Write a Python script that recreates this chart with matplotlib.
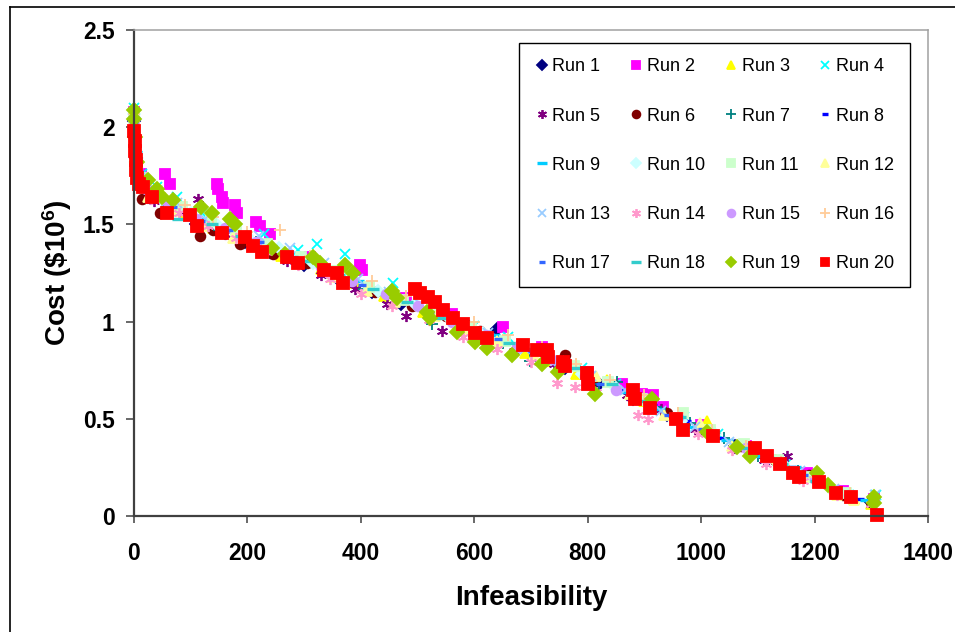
import matplotlib
matplotlib.use('Agg')
import matplotlib.pyplot as plt
from matplotlib.lines import Line2D

# ---- data: (infeasibility, cost in $10^6) per run ----
run1_x = [0, 3, 8, 25, 60, 110, 150, 195, 240, 300, 360, 420, 470, 520, 590, 640, 700, 760, 820, 880, 940, 1000, 1060, 1120, 1180, 1240, 1300]
run1_y = [2.03, 1.84, 1.72, 1.64, 1.59, 1.50, 1.46, 1.41, 1.36, 1.29, 1.22, 1.15, 1.09, 1.03, 0.97, 0.96, 0.83, 0.76, 0.68, 0.60, 0.52, 0.45, 0.36, 0.30, 0.21, 0.12, 0.07]

run2_x = [0, 4, 12, 55, 63, 146, 148, 155, 157, 178, 181, 216, 222, 240, 310, 398, 402, 480, 560, 651, 720, 800, 860, 896, 915, 933, 1000, 1080, 1187, 1250, 1305]
run2_y = [2.08, 1.86, 1.76, 1.76, 1.71, 1.71, 1.68, 1.64, 1.61, 1.60, 1.56, 1.51, 1.49, 1.45, 1.33, 1.29, 1.265, 1.12, 1.04, 0.97, 0.87, 0.74, 0.68, 0.63, 0.62, 0.56, 0.47, 0.36, 0.22, 0.13, 0.09]

run3_x = [0, 2, 6, 30, 90, 140, 190, 260, 330, 390, 440, 510, 570, 620, 690, 730, 780, 834, 900, 960, 1010, 1090, 1150, 1210, 1270, 1300]
run3_y = [2.06, 1.92, 1.78, 1.65, 1.56, 1.48, 1.42, 1.34, 1.27, 1.20, 1.13, 1.05, 0.98, 0.93, 0.84, 0.80, 0.73, 0.70, 0.59, 0.51, 0.49, 0.33, 0.26, 0.18, 0.09, 0.06]

run4_x = [0, 2, 5, 14, 40, 75, 120, 170, 230, 290, 323, 372, 457, 530, 600, 660, 720, 790, 850, 910, 970, 1030, 1090, 1150, 1200, 1260, 1308]
run4_y = [2.10, 1.95, 1.85, 1.76, 1.69, 1.64, 1.56, 1.50, 1.45, 1.37, 1.40, 1.35, 1.20, 1.07, 0.98, 0.92, 0.86, 0.76, 0.68, 0.59, 0.51, 0.42, 0.35, 0.27, 0.20, 0.11, 0.11]

run5_x = [0, 3, 9, 35, 80, 113, 160, 210, 270, 330, 390, 446, 480, 543, 600, 670, 740, 800, 870, 930, 990, 1060, 1110, 1152, 1210, 1260, 1300]
run5_y = [2.02, 1.84, 1.70, 1.62, 1.57, 1.63, 1.45, 1.40, 1.31, 1.24, 1.17, 1.09, 1.03, 0.95, 0.93, 0.85, 0.78, 0.68, 0.62, 0.55, 0.45, 0.35, 0.29, 0.31, 0.18, 0.11, 0.06]

run6_x = [0, 4, 14, 46, 116, 140, 187, 245, 305, 365, 425, 490, 550, 610, 680, 760, 810, 880, 940, 1010, 1070, 1130, 1190, 1250, 1300]
run6_y = [2.04, 1.82, 1.63, 1.56, 1.44, 1.47, 1.40, 1.35, 1.30, 1.22, 1.15, 1.08, 1.03, 0.95, 0.88, 0.83, 0.70, 0.62, 0.53, 0.44, 0.36, 0.29, 0.21, 0.11, 0.07]

run7_x = [0, 3, 10, 50, 100, 150, 215, 280, 345, 405, 465, 525, 590, 650, 698, 770, 820, 852, 920, 980, 1040, 1100, 1170, 1230, 1300]
run7_y = [2.03, 1.85, 1.71, 1.62, 1.54, 1.47, 1.41, 1.32, 1.24, 1.17, 1.11, 0.99, 0.95, 0.89, 0.80, 0.77, 0.68, 0.69, 0.56, 0.48, 0.40, 0.31, 0.23, 0.14, 0.07]

run8_x = [0, 2, 7, 20, 65, 105, 155, 205, 265, 320, 380, 440, 500, 560, 615, 675, 735, 795, 860, 915, 975, 1035, 1095, 1160, 1220, 1280]
run8_y = [2.01, 1.90, 1.76, 1.68, 1.60, 1.54, 1.47, 1.42, 1.35, 1.29, 1.21, 1.14, 1.08, 1.01, 0.94, 0.88, 0.81, 0.72, 0.65, 0.57, 0.49, 0.40, 0.33, 0.25, 0.17, 0.09]

run9_x = [0, 3, 8, 30, 70, 115, 165, 225, 285, 340, 395, 455, 515, 575, 635, 695, 745, 805, 865, 925, 985, 1045, 1105, 1165, 1225, 1290]
run9_y = [2.04, 1.87, 1.73, 1.66, 1.60, 1.53, 1.48, 1.40, 1.33, 1.27, 1.21, 1.13, 1.06, 1.00, 0.93, 0.86, 0.80, 0.71, 0.64, 0.55, 0.46, 0.39, 0.31, 0.25, 0.15, 0.08]

run10_x = [0, 5, 18, 50, 100, 145, 200, 255, 315, 375, 430, 495, 555, 615, 680, 735, 790, 850, 905, 965, 1025, 1085, 1145, 1205, 1265]
run10_y = [2.07, 1.82, 1.70, 1.63, 1.56, 1.50, 1.44, 1.38, 1.30, 1.23, 1.16, 1.09, 1.02, 0.94, 0.87, 0.81, 0.73, 0.66, 0.58, 0.49, 0.42, 0.34, 0.27, 0.19, 0.11]

run11_x = [0, 3, 12, 40, 85, 135, 180, 235, 295, 355, 415, 475, 535, 595, 655, 715, 775, 835, 895, 968, 1015, 1075, 1135, 1195, 1255]
run11_y = [2.05, 1.88, 1.74, 1.67, 1.59, 1.52, 1.47, 1.40, 1.33, 1.26, 1.18, 1.11, 1.05, 0.97, 0.90, 0.85, 0.77, 0.69, 0.60, 0.53, 0.44, 0.37, 0.29, 0.20, 0.12]

run12_x = [0, 2, 8, 25, 70, 120, 175, 230, 290, 350, 410, 460, 530, 585, 640, 705, 760, 815, 875, 935, 998, 1055, 1120, 1180, 1240, 1270]
run12_y = [2.06, 1.89, 1.72, 1.64, 1.57, 1.49, 1.43, 1.37, 1.30, 1.23, 1.16, 1.10, 1.03, 0.96, 0.90, 0.83, 0.78, 0.72, 0.63, 0.52, 0.48, 0.36, 0.30, 0.20, 0.11, 0.08]

run13_x = [0, 4, 10, 35, 75, 125, 170, 220, 275, 335, 395, 450, 505, 565, 625, 690, 750, 805, 865, 930, 990, 1050, 1115, 1175, 1235, 1307]
run13_y = [2.08, 1.86, 1.74, 1.68, 1.61, 1.53, 1.49, 1.44, 1.38, 1.30, 1.22, 1.15, 1.09, 1.01, 0.94, 0.86, 0.80, 0.72, 0.65, 0.54, 0.46, 0.38, 0.30, 0.23, 0.14, 0.11]

run14_x = [0, 3, 9, 30, 80, 130, 180, 235, 290, 345, 400, 455, 520, 580, 640, 700, 746, 778, 815, 889, 906, 995, 1055, 1115, 1180, 1240, 1300]
run14_y = [2.03, 1.84, 1.71, 1.63, 1.56, 1.49, 1.43, 1.36, 1.29, 1.22, 1.14, 1.08, 1.01, 0.92, 0.86, 0.79, 0.685, 0.665, 0.64, 0.52, 0.50, 0.42, 0.34, 0.27, 0.18, 0.11, 0.06]

run15_x = [0, 2, 6, 22, 60, 110, 160, 215, 270, 330, 385, 445, 500, 560, 620, 675, 735, 795, 850, 910, 960, 1020, 1080, 1140, 1200, 1260]
run15_y = [2.04, 1.90, 1.79, 1.68, 1.61, 1.53, 1.48, 1.41, 1.35, 1.28, 1.21, 1.14, 1.08, 1.00, 0.93, 0.87, 0.81, 0.72, 0.65, 0.57, 0.51, 0.42, 0.35, 0.27, 0.19, 0.11]

run16_x = [0, 3, 11, 45, 90, 140, 200, 257, 310, 365, 420, 480, 540, 600, 660, 720, 780, 840, 900, 960, 1020, 1080, 1140, 1200, 1262]
run16_y = [2.07, 1.88, 1.75, 1.66, 1.60, 1.54, 1.46, 1.47, 1.34, 1.26, 1.21, 1.13, 1.07, 1.00, 0.93, 0.87, 0.78, 0.70, 0.62, 0.53, 0.44, 0.36, 0.28, 0.20, 0.12]

run17_x = [0, 2, 7, 28, 68, 118, 168, 222, 282, 342, 402, 462, 522, 582, 642, 702, 762, 822, 882, 942, 1002, 1062, 1122, 1182, 1242, 1300]
run17_y = [2.02, 1.89, 1.76, 1.66, 1.59, 1.52, 1.47, 1.41, 1.33, 1.26, 1.19, 1.12, 1.05, 0.97, 0.91, 0.85, 0.77, 0.68, 0.61, 0.52, 0.45, 0.36, 0.30, 0.21, 0.13, 0.07]

run18_x = [0, 4, 14, 42, 78, 138, 188, 242, 302, 362, 422, 482, 542, 602, 662, 722, 782, 842, 902, 962, 1022, 1082, 1142, 1202, 1262]
run18_y = [2.05, 1.84, 1.70, 1.63, 1.53, 1.50, 1.44, 1.39, 1.31, 1.24, 1.17, 1.10, 1.02, 0.96, 0.89, 0.84, 0.76, 0.68, 0.59, 0.51, 0.43, 0.35, 0.27, 0.18, 0.10]

run19_x = [0, 0, 2, 6, 25, 40, 49, 69, 119, 137, 169, 178, 243, 266, 316, 328, 372, 386, 455, 464, 516, 522, 570, 601, 622, 667, 720, 748, 813, 914, 1010, 1063, 1086, 1204, 1224, 1305, 1305]
run19_y = [2.09, 2.04, 1.95, 1.82, 1.73, 1.68, 1.64, 1.625, 1.59, 1.56, 1.53, 1.50, 1.38, 1.35, 1.33, 1.30, 1.29, 1.25, 1.16, 1.12, 1.05, 1.02, 0.945, 0.895, 0.865, 0.83, 0.78, 0.74, 0.63, 0.60, 0.43, 0.355, 0.31, 0.22, 0.16, 0.10, 0.065]

run20_x = [0, 1, 2, 3, 4, 6, 8, 16, 31, 58, 99, 111, 155, 196, 210, 226, 270, 289, 335, 358, 369, 496, 504, 519, 531, 545, 563, 580, 601, 623, 686, 711, 728, 730, 757, 760, 799, 800, 880, 884, 910, 956, 968, 1021, 1095, 1116, 1139, 1162, 1173, 1208, 1238, 1264, 1310]
run20_y = [1.98, 1.93, 1.88, 1.83, 1.78, 1.74, 1.71, 1.69, 1.64, 1.56, 1.55, 1.49, 1.455, 1.435, 1.39, 1.36, 1.33, 1.30, 1.265, 1.25, 1.20, 1.17, 1.147, 1.127, 1.10, 1.06, 1.02, 0.99, 0.94, 0.915, 0.88, 0.855, 0.855, 0.82, 0.79, 0.77, 0.735, 0.68, 0.65, 0.60, 0.555, 0.50, 0.44, 0.41, 0.35, 0.31, 0.27, 0.22, 0.20, 0.175, 0.12, 0.10, 0.005]

runs_x = [run1_x, run2_x, run3_x, run4_x, run5_x, run6_x, run7_x, run8_x, run9_x, run10_x,
          run11_x, run12_x, run13_x, run14_x, run15_x, run16_x, run17_x, run18_x, run19_x, run20_x]
runs_y = [run1_y, run2_y, run3_y, run4_y, run5_y, run6_y, run7_y, run8_y, run9_y, run10_y,
          run11_y, run12_y, run13_y, run14_y, run15_y, run16_y, run17_y, run18_y, run19_y, run20_y]
labels = ['Run %d' % (i + 1) for i in range(20)]

x_ticks = [0, 200, 400, 600, 800, 1000, 1200, 1400]
y_ticks = [0, 0.5, 1, 1.5, 2, 2.5]
y_tick_labels = ['0', '0.5', '1', '1.5', '2', '2.5']

# ---- marker styles (Excel default series look) ----
STAR = (6, 2, 0)
styles = [
    ('D', '#000080', 6), ('s', '#FF00FF', 7), ('^', '#FFFF00', 7.5), ('x', '#00FFFF', 7),
    (STAR, '#800080', 8), ('o', '#800000', 7), ('+', '#008080', 8.5), ('_', '#0000FF', 5.5),
    ('_', '#00CCFF', 8.5), ('D', '#CCFFFF', 6), ('s', '#CCFFCC', 7), ('^', '#FFFF99', 7.5),
    ('x', '#99CCFF', 7), (STAR, '#FF99CC', 8), ('o', '#CC99FF', 7), ('+', '#FFCC99', 8.5),
    ('_', '#3366FF', 5.5), ('_', '#33CCCC', 8.5), ('D', '#99CC00', 7), ('s', '#FF0000', 8),
]


def main():
    plt.rcParams['font.family'] = ['Liberation Sans', 'DejaVu Sans']
    plt.rcParams['mathtext.fontset'] = 'custom'
    plt.rcParams['mathtext.rm'] = 'Liberation Sans'
    plt.rcParams['mathtext.bf'] = 'Liberation Sans:bold'
    plt.rcParams['mathtext.default'] = 'bf'

    fig = plt.figure(figsize=(9.55, 6.32), dpi=100)
    ax = fig.add_axes([0.1403, 0.1835, 0.8314, 0.769])

    handles = []
    for xs, ys, lab, (mk, col, ms) in zip(runs_x, runs_y, labels, styles):
        mew = 2.4 if mk == '_' else 1.3
        h, = ax.plot(xs, ys, linestyle='none', marker=mk, color=col, markerfacecolor=col,
                     markeredgecolor=col, markersize=ms, markeredgewidth=mew, label=lab,
                     clip_on=False)
        handles.append(h)

    ax.set_xlim(0, 1400)
    ax.set_ylim(0, 2.5)
    ax.set_xticks(x_ticks)
    ax.set_yticks(y_ticks)
    ax.set_yticklabels(y_tick_labels)

    for side in ['left', 'bottom']:
        ax.spines[side].set_color('#404040')
        ax.spines[side].set_linewidth(1.6)
    for side in ['top', 'right']:
        ax.spines[side].set_color('#A0A0A0')
        ax.spines[side].set_linewidth(1.1)

    ax.tick_params(axis='y', direction='out', length=6, width=1.1, color='#404040',
                   pad=8, labelsize=16.5)
    ax.tick_params(axis='x', direction='out', length=5, width=1.1, color='#404040',
                   pad=14, labelsize=16.5)
    for t in ax.get_xticklabels() + ax.get_yticklabels():
        t.set_fontweight('bold')

    ax.set_xlabel('Infeasibility', fontsize=20, fontweight='bold', labelpad=14)
    ax.set_ylabel('Cost (\\$10$^6$)', fontsize=20, fontweight='bold', labelpad=6)

    # legend fills column by column, reorder so it reads row by row like Excel
    ncol = 4
    order = [r * ncol + c for c in range(ncol) for r in range(len(handles) // ncol)]
    leg = ax.legend([handles[i] for i in order], [labels[i] for i in order],
                    loc='upper left', bbox_to_anchor=(0.485, 0.973), ncol=ncol,
                    fontsize=13, frameon=True, fancybox=False, edgecolor='black',
                    framealpha=1, borderaxespad=0, borderpad=0.85, labelspacing=1.78,
                    handlelength=0.8, handletextpad=0.2, columnspacing=1.02,
                    markerscale=0.8)
    leg.get_frame().set_linewidth(1.0)

    # outer chart border (top and left edges visible in the crop)
    fig.add_artist(Line2D([0.0105, 1.0], [0.989, 0.989], color='black', lw=1.2,
                          transform=fig.transFigure))
    fig.add_artist(Line2D([0.0105, 0.0105], [0.0, 0.989], color='black', lw=1.2,
                          transform=fig.transFigure))

    fig.savefig('out.png', dpi=100)


if __name__ == '__main__':
    main()
